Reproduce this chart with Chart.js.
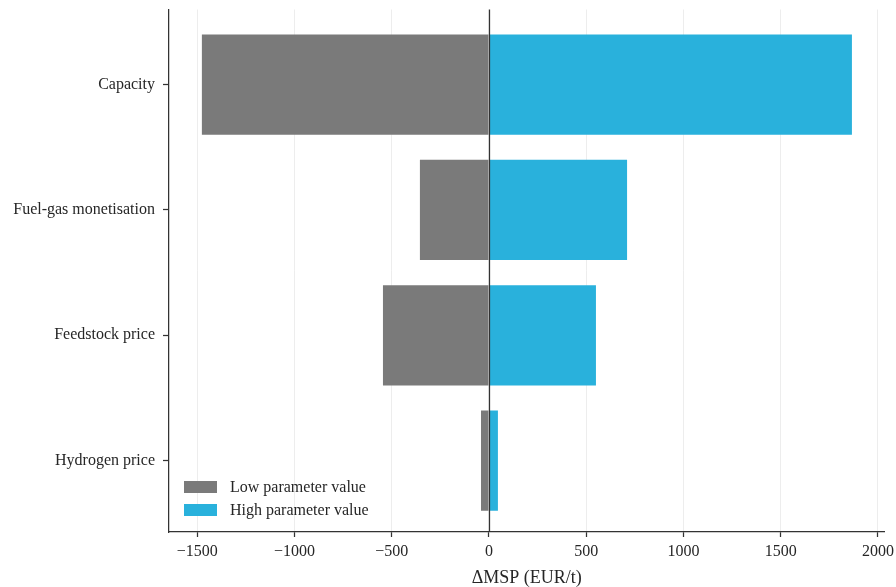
<!DOCTYPE html>
<html>
<head>
<meta charset="utf-8">
<script src="https://cdn.jsdelivr.net/npm/chart.js@4/dist/chart.umd.min.js"></script>
<style>
  html, body { margin: 0; padding: 0; background: #ffffff; }
  #wrap { width: 896px; height: 587px; position: relative; }
</style>
</head>
<body>
<div id="wrap"><canvas id="chart"></canvas></div>
<script>
// Sensitivity of the minimum selling price to each parameter
const parameters = ['Capacity', 'Fuel-gas monetisation', 'Feedstock price', 'Hydrogen price'];
const lowValues  = [-1476, -355, -545, -41];
const highValues = [1866, 710, 550, 46];
const xTickValues = [-1500, -1000, -500, 0, 500, 1000, 1500, 2000];
const seriesNames = ['Low parameter value', 'High parameter value'];

const GREY = '#7a7a7a';
const BLUE = '#29b1dc';
const INK = '#262626';
const SPINE = '#333333';
const FONT = '"Liberation Serif", "DejaVu Serif", serif';

const toPoints = vals => vals.map((v, i) => ({ x: v, y: i }));
const fmtTick = v => (v < 0 ? '\u2212' + Math.abs(v) : String(v));

// Vertical reference line through zero, drawn over the bars
const zeroLine = {
  id: 'zeroLine',
  afterDatasetsDraw(chart) {
    const { ctx, chartArea, scales } = chart;
    const x = Math.round(scales.x.getPixelForValue(0)) + 0.5;
    ctx.save();
    ctx.strokeStyle = SPINE;
    ctx.lineWidth = 1.25;
    ctx.beginPath();
    ctx.moveTo(x, chartArea.top);
    ctx.lineTo(x, chartArea.bottom);
    ctx.stroke();
    ctx.restore();
  }
};

// Legend in the lower-left corner of the plot area
const cornerLegend = {
  id: 'cornerLegend',
  afterDraw(chart) {
    const { ctx, chartArea } = chart;
    const x0 = chartArea.left + 15;
    let y0 = chartArea.bottom - 51;
    ctx.save();
    ctx.font = '16px ' + FONT;
    ctx.textBaseline = 'middle';
    ctx.textAlign = 'left';
    chart.data.datasets.forEach(ds => {
      ctx.fillStyle = ds.backgroundColor;
      ctx.fillRect(x0, y0, 33, 12);
      ctx.fillStyle = INK;
      ctx.fillText(ds.label, x0 + 46, y0 + 7);
      y0 += 23;
    });
    ctx.restore();
  }
};

new Chart(document.getElementById('chart'), {
  type: 'bar',
  data: {
    datasets: [
      { label: seriesNames[0], data: toPoints(lowValues), backgroundColor: GREY },
      { label: seriesNames[1], data: toPoints(highValues), backgroundColor: BLUE }
    ]
  },
  options: {
    indexAxis: 'y',
    responsive: true,
    maintainAspectRatio: false,
    animation: false,
    layout: { padding: { top: 9.5, right: 11.4, bottom: 0, left: 0 } },
    datasets: {
      bar: { grouped: false, categoryPercentage: 0.8, barPercentage: 1.0, borderWidth: 0 }
    },
    plugins: {
      legend: { display: false },
      tooltip: { enabled: false }
    },
    scales: {
      x: {
        type: 'linear',
        min: -1645,
        max: 2034,
        afterBuildTicks: s => { s.ticks = xTickValues.map(v => ({ value: v })); },
        afterFit: s => { s.height = 55; s.paddingLeft = 0; s.paddingRight = 0; },
        grid: {
          color: '#ededed',
          lineWidth: 1,
          drawTicks: true,
          tickLength: 5,
          tickColor: SPINE,
          tickWidth: 1.25
        },
        border: { display: true, color: SPINE, width: 1.25 },
        ticks: {
          color: INK,
          font: { family: FONT, size: 16 },
          padding: 5,
          maxRotation: 0,
          callback: v => fmtTick(v)
        },
        title: {
          display: true,
          text: '\u0394MSP (EUR/t)',
          color: INK,
          font: { family: FONT, size: 18, lineHeight: 1 },
          padding: { top: 0, bottom: 0 }
        }
      },
      y: {
        type: 'linear',
        reverse: true,
        offset: false,
        min: -0.6,
        max: 3.57,
        afterBuildTicks: s => { s.ticks = parameters.map((_, i) => ({ value: i })); },
        afterFit: s => { s.width = 169; s.paddingTop = 0; s.paddingBottom = 0; },
        grid: {
          offset: false,
          drawOnChartArea: false,
          drawTicks: true,
          tickLength: 6,
          tickColor: SPINE,
          tickWidth: 1.25
        },
        border: { display: true, color: SPINE, width: 1.25 },
        ticks: {
          color: INK,
          font: { family: FONT, size: 16 },
          padding: 8,
          callback: v => parameters[v]
        }
      }
    }
  },
  plugins: [zeroLine, cornerLegend]
});
</script>
</body>
</html>
